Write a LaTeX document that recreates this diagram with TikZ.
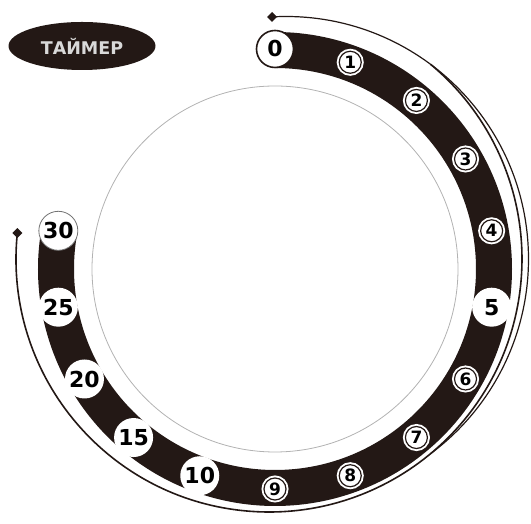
\documentclass[tikz,border=0pt]{standalone}
\usepackage{fontspec}
\setmainfont{DejaVu Sans}
\usetikzlibrary{shapes.geometric, calc}
\definecolor{dialink}{HTML}{231815}

\begin{document}
\begin{tikzpicture}[
  x=1pt, y=1pt,
  smallnum/.style={circle, fill=white, draw=dialink, line width=1.2pt,
                   minimum size=22pt, inner sep=0pt,
                   preaction={draw=white, line width=5pt},
                   font=\fontsize{17}{17}\selectfont\bfseries},
  bignum/.style={circle, fill=white, minimum size=39pt, inner sep=0pt,
                 font=\fontsize{22}{22}\selectfont\bfseries},
  tipmark/.style={diamond, fill=dialink, minimum size=10pt, inner sep=0pt}
]
  \useasboundingbox (0,0) rectangle (531,524);
  \coordinate (C) at (275,255);
  \coordinate (cA) at (286,265);
  \coordinate (cB) at (269,265);

  % thin inner ring
  \draw[black!30, line width=0.8pt] (C) circle[radius=183];

  % outer guide lines with diamond ends
  \node[tipmark] (dA) at ($(cA)+(93.3:242.5)$) {};
  \draw[dialink, line width=1.2pt] (dA.center)
    arc[start angle=93.3, end angle=-53.4, radius=242.5];
  \node[tipmark] (dB) at ($(cB)+(174.1:253)$) {};
  \draw[dialink, line width=1.6pt] (dB.center)
    arc[start angle=174.1, end angle=410.3, radius=253];

  % black band
  \draw[dialink, line width=36pt] ($(C)+(90:219)$)
    arc[start angle=90, end angle=-190, radius=219];

  % minute marks, small ones
  \foreach \k in {1,2,3,4,6,7,8,9}{
    \node[smallnum] (n\k) at ($(C)+(90-20*\k:220)$) {\k};
  }
  % minute marks, big ones
  \foreach \k/\v in {5/5, 10/10, 11/15, 12/20, 13/25}{
    \node[bignum] (n\v) at ($(C)+(90-20*\k:220)$) {\v};
  }
  \node[bignum, draw=dialink, line width=1.6pt, minimum size=37pt]
    (n0) at ($(C)+(90:220)$) {0};
  \node[bignum, draw=black!55, line width=0.8pt]
    (n30) at ($(C)+(-190:220)$) {30};

  % title
  \node[ellipse, fill=dialink, minimum width=147pt, minimum height=48pt,
        text=white!85!black, font=\fontsize{17.5}{17.5}\selectfont\bfseries]
    (title) at (82,478) {ТАЙМЕР};
\end{tikzpicture}
\end{document}
